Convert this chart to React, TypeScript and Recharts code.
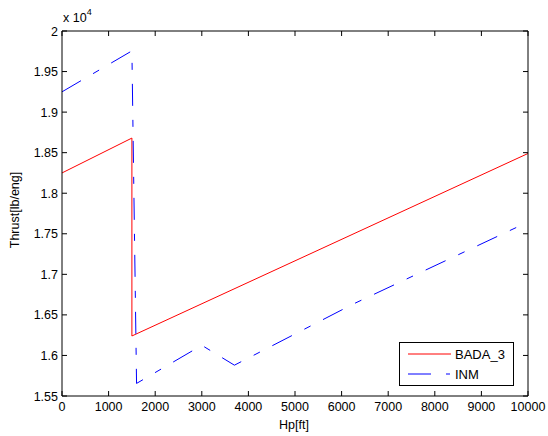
import React from 'react';
import { LineChart, Line, XAxis, YAxis } from 'recharts';

// altitude [ft] and thrust [lb/eng]
const badaHp = [0, 1500, 1500, 10000];
const badaThrust = [18250, 18680, 16240, 18490];

const inmHp = [0, 1500, 1600, 3000, 3700, 6250, 10000];
const inmThrust = [19250, 19755, 15655, 16125, 15880, 16634, 17645];

const xTicks = [0, 1000, 2000, 3000, 4000, 5000, 6000, 7000, 8000, 9000, 10000];
const yTicks = [15500, 16000, 16500, 17000, 17500, 18000, 18500, 19000, 19500, 20000];

const badaData = badaHp.map((hp, i) => ({ hp, t: badaThrust[i] }));
const inmData = inmHp.map((hp, i) => ({ hp, t: inmThrust[i] }));

const FONT = '"Liberation Sans", Arial, sans-serif';
const TICK = 5;
const DASH_DOT = '22 14 7 14';

const BottomTick = ({ x, y, payload }: any) => (
    <g>
        <line x1={x} x2={x} y1={y} y2={y - TICK} stroke="#000" />
        <text x={x} y={y + 15} textAnchor="middle" fontSize={12.5} fontFamily={FONT} fill="#000">
            {payload.value}
        </text>
    </g>
);

const TopTick = ({ x, y }: any) => (
    <line x1={x} x2={x} y1={y} y2={y + TICK} stroke="#000" />
);

const LeftTick = ({ x, y, payload }: any) => (
    <g>
        <line x1={x} x2={x + TICK} y1={y} y2={y} stroke="#000" />
        <text x={x - 4} y={y} dy="0.36em" textAnchor="end" fontSize={12.5} fontFamily={FONT} fill="#000">
            {String(payload.value / 10000)}
        </text>
    </g>
);

const RightTick = ({ x, y }: any) => (
    <line x1={x} x2={x - TICK} y1={y} y2={y} stroke="#000" />
);

const App = () => {
    return (
        <div style={{ position: 'absolute', left: 0, top: 0, width: 548, height: 436, background: '#fff', fontFamily: FONT }}>
            <LineChart width={548} height={436} margin={{ top: 21, right: 10, bottom: 10, left: 2 }}>
                <XAxis
                    dataKey="hp"
                    type="number"
                    domain={[0, 10000]}
                    ticks={xTicks}
                    interval={0}
                    tickSize={0}
                    tickMargin={0}
                    tickLine={false}
                    tick={BottomTick}
                    axisLine={{ stroke: '#000' }}
                    height={30}
                    allowDataOverflow
                />
                <XAxis
                    xAxisId="top"
                    dataKey="hp"
                    orientation="top"
                    type="number"
                    domain={[0, 10000]}
                    ticks={xTicks}
                    interval={0}
                    tickSize={0}
                    tickMargin={0}
                    tickLine={false}
                    tick={TopTick}
                    axisLine={{ stroke: '#000' }}
                    height={10}
                    allowDataOverflow
                />
                <YAxis
                    type="number"
                    domain={[15500, 20000]}
                    ticks={yTicks}
                    interval={0}
                    tickSize={0}
                    tickMargin={0}
                    tickLine={false}
                    tick={LeftTick}
                    axisLine={{ stroke: '#000' }}
                    width={60}
                    allowDataOverflow
                />
                <YAxis
                    yAxisId="right"
                    orientation="right"
                    type="number"
                    domain={[15500, 20000]}
                    ticks={yTicks}
                    interval={0}
                    tickSize={0}
                    tickMargin={0}
                    tickLine={false}
                    tick={RightTick}
                    axisLine={{ stroke: '#000' }}
                    width={10}
                    allowDataOverflow
                />
                {/* invisible copy that ties the top and right frame axes in */}
                <Line
                    xAxisId="top"
                    yAxisId="right"
                    data={badaData}
                    dataKey="t"
                    stroke="none"
                    dot={false}
                    legendType="none"
                    isAnimationActive={false}
                />
                <Line
                    data={badaData}
                    dataKey="t"
                    type="linear"
                    stroke="#ff0000"
                    strokeWidth={1}
                    dot={false}
                    isAnimationActive={false}
                />
                <Line
                    data={inmData}
                    dataKey="t"
                    type="linear"
                    stroke="#0000ff"
                    strokeWidth={1}
                    strokeDasharray={DASH_DOT}
                    dot={false}
                    isAnimationActive={false}
                />
            </LineChart>

            {/* exponent above the y axis */}
            <div style={{ position: 'absolute', left: 63, top: 9, fontSize: 12.5, color: '#000', whiteSpace: 'nowrap' }}>
                x 10<sup style={{ fontSize: 9, position: 'relative', top: -2 }}>4</sup>
            </div>

            {/* axis titles */}
            <div style={{ position: 'absolute', left: 0, width: 548, top: 418, textAlign: 'center', paddingLeft: 40, boxSizing: 'border-box', fontSize: 12.5 }}>
                Hp[ft]
            </div>
            <div
                style={{
                    position: 'absolute',
                    left: 15,
                    top: 210,
                    transform: 'translate(-50%, -50%) rotate(-90deg)',
                    fontSize: 12.5,
                    whiteSpace: 'nowrap',
                }}
            >
                Thrust[lb/eng]
            </div>

            {/* legend box */}
            <div
                style={{
                    position: 'absolute',
                    left: 399,
                    top: 342,
                    width: 115,
                    height: 44,
                    border: '1px solid #000',
                    background: '#fff',
                    boxSizing: 'border-box',
                }}
            >
                <svg width={115} height={44} style={{ position: 'absolute', left: -1, top: -1 }}>
                    <line x1={9} x2={52} y1={12} y2={12} stroke="#ff0000" />
                    <line x1={9} x2={51} y1={32} y2={32} stroke="#0000ff" strokeDasharray="23 15 4 30" />
                    <text x={56} y={12} dy="0.36em" fontSize={13} fontFamily={FONT} fill="#000">BADA_3</text>
                    <text x={56} y={32} dy="0.36em" fontSize={13} fontFamily={FONT} fill="#000">INM</text>
                </svg>
            </div>
        </div>
    );
};

export default App;
